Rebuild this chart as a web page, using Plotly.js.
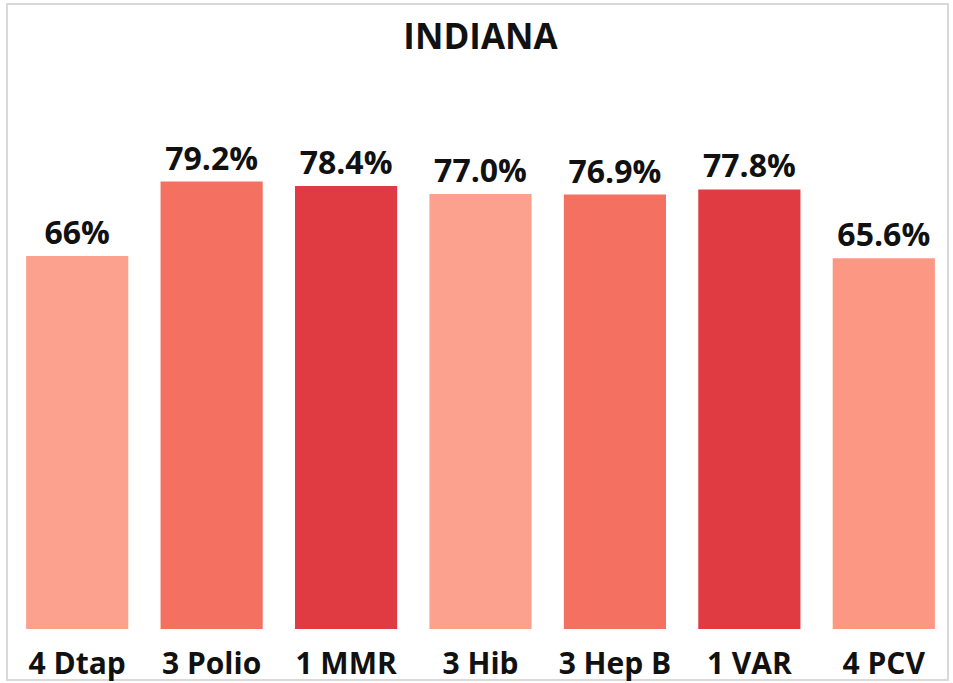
<!DOCTYPE html>
<html>
<head>
<meta charset="utf-8">
<script src="https://cdn.plot.ly/plotly-3.0.1.min.js"></script>
<style>html,body{margin:0;padding:0;background:#fff;}#chart{width:953px;height:683px;}</style>
</head>
<body>
<div id="chart"></div>
<script>
const categories = ["4 Dtap", "3 Polio", "1 MMR", "3 Hib", "3 Hep B", "1 VAR", "4 PCV"];
const values = [66, 79.2, 78.4, 77.0, 76.9, 77.8, 65.6];
const labels = ["66%", "79.2%", "78.4%", "77.0%", "76.9%", "77.8%", "65.6%"];
const barColors = ["#FBA18D", "#F47061", "#E03A43", "#FBA18D", "#F47061", "#E03A43", "#FC9783"];

const W = 953, H = 683;
const m = {l: 10, r: 2, t: 64, b: 54};
const pw = W - m.l - m.r, ph = H - m.t - m.b;

const trace = {
  type: "bar",
  x: categories,
  y: values,
  text: labels,
  textposition: "outside",
  cliponaxis: false,
  textfont: {family: "Open Sans", size: 32, color: "#111", weight: 700},
  marker: {color: barColors},
  hoverinfo: "none"
};

const layout = {
  width: W, height: H,
  margin: m,
  paper_bgcolor: "#fff",
  plot_bgcolor: "#fff",
  showlegend: false,
  bargap: 0.24,
  title: {
    text: "<b>INDIANA</b>",
    font: {family: "Open Sans", size: 35, color: "#111"},
    x: (m.l + pw / 2) / W, xanchor: "center",
    y: 1 - 37 / H, yanchor: "middle", yref: "container"
  },
  xaxis: {
    type: "category",
    range: [-0.5, 6.5],
    showgrid: false, zeroline: false, showline: false,
    ticks: "",
    ticklabelstandoff: 14,
    tickfont: {family: "Open Sans", size: 30, color: "#111", weight: 700},
    fixedrange: true
  },
  yaxis: {
    range: [0, 100],
    visible: false,
    showgrid: false, zeroline: false,
    fixedrange: true
  },
  shapes: [{
    type: "rect", xref: "paper", yref: "paper",
    x0: (7 - m.l) / pw, x1: (948 - m.l) / pw,
    y0: (m.t + ph - 680) / ph, y1: (m.t + ph - 4) / ph,
    line: {color: "#d9d9d9", width: 2},
    fillcolor: "rgba(0,0,0,0)",
    layer: "below"
  }]
};

Plotly.newPlot("chart", [trace], layout, {displayModeBar: false, staticPlot: true});
</script>
</body>
</html>
